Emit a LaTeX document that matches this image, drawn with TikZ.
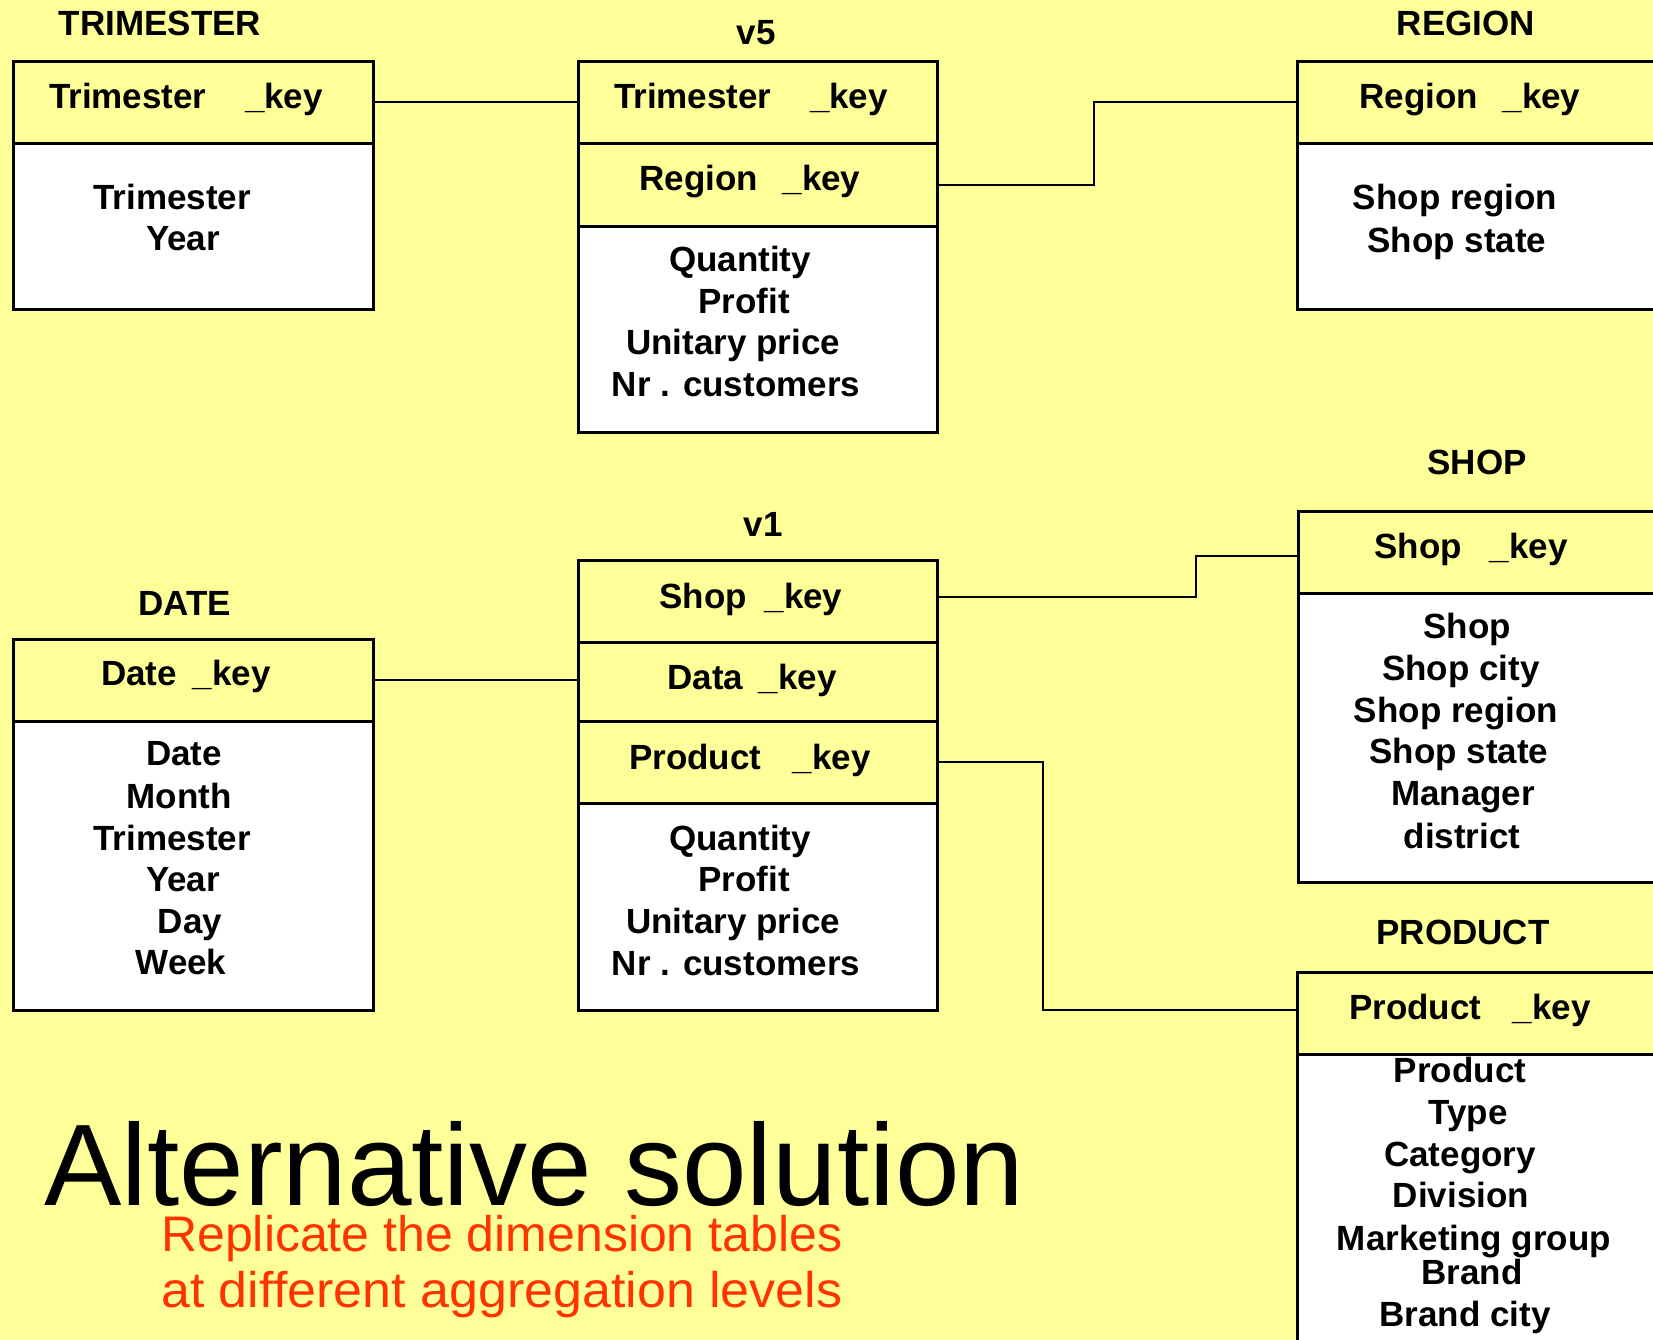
\documentclass[tikz,border=0pt]{standalone}
\usepackage{fontspec}
\setmainfont{Liberation Sans}
\definecolor{bgyel}{RGB}{255,255,153}
\definecolor{redtxt}{RGB}{255,51,0}
\begin{document}
\begin{tikzpicture}[x=1pt,y=-1pt,
  hdr/.style={draw=black, line width=2.6pt, fill=bgyel, anchor=north west, inner sep=0pt},
  body/.style={draw=black, line width=2.6pt, fill=white, anchor=north west, inner sep=0pt},
  txt/.style={font=\fontsize{35}{42}\selectfont\bfseries, inner sep=0pt, anchor=base},
  conn/.style={draw=black, line width=2pt}]
\useasboundingbox (0,0) rectangle (1653,1340);
\fill[bgyel] (0,0) rectangle (1653,1340);
\clip (0,0) rectangle (1653,1340);

% ---------- TRIMESTER ----------
\node[body, minimum width=360pt, minimum height=166pt] (tbody) at (12,142) {};
\node[hdr, minimum width=360pt, minimum height=82pt] (tkey) at (12,60) {};
\node[txt] (ttitle) at (160,36) {TRIMESTER};
\node[txt] (tkeyt) at (186,109) {Trimester\hspace{1.1em}\_key};
\node[txt] (tb1) at (172,210) {Trimester};
\node[txt] (tb2) at (183,251) {Year};

% ---------- v5 ----------
\node[body, minimum width=359pt, minimum height=206pt] (vfbody) at (577,225) {};
\node[hdr, minimum width=359pt, minimum height=83pt] (vfrk) at (577,142) {};
\node[hdr, minimum width=359pt, minimum height=82pt] (vftk) at (577,60) {};
\node[txt] (vftitle) at (756,45) {v5};
\node[txt] (vftkt) at (751,109) {Trimester\hspace{1.1em}\_key};
\node[txt] (vfrkt) at (750,191) {Region\hspace{0.7em}\_key};
\node[txt] (vfb1) at (740,272) {Quantity};
\node[txt] (vfb2) at (744,313) {Profit};
\node[txt] (vfb3) at (733,354) {Unitary price};
\node[txt] (vfb4) at (736,396) {Nr . customers};

% ---------- REGION ----------
\node[body, minimum width=420pt, minimum height=166pt] (rbody) at (1296,142) {};
\node[hdr, minimum width=420pt, minimum height=82pt] (rkey) at (1296,60) {};
\node[txt] (rtitle) at (1466,36) {REGION};
\node[txt] (rkeyt) at (1470,109) {Region\hspace{0.7em}\_key};
\node[txt] (rb1) at (1455,210) {Shop region};
\node[txt] (rb2) at (1457,252) {Shop state};

% ---------- DATE ----------
\node[body, minimum width=360pt, minimum height=289pt] (dbody) at (12,720) {};
\node[hdr, minimum width=360pt, minimum height=82pt] (dkey) at (12,638) {};
\node[txt] (dtitle) at (185,615) {DATE};
\node[txt] (dkeyt) at (186,685) {Date\hspace{0.45em}\_key};
\node[txt] (db1) at (184,765) {Date};
\node[txt] (db2) at (179,808) {Month};
\node[txt] (db3) at (172,850) {Trimester};
\node[txt] (db4) at (183,891) {Year};
\node[txt] (db5) at (190,933) {Day};
\node[txt] (db6) at (181,974) {Week};

% ---------- v1 ----------
\node[body, minimum width=359pt, minimum height=207pt] (vobody) at (577,802) {};
\node[hdr, minimum width=359pt, minimum height=82pt] (vopk) at (577,720) {};
\node[hdr, minimum width=359pt, minimum height=79pt] (vodk) at (577,641) {};
\node[hdr, minimum width=359pt, minimum height=82pt] (vosk) at (577,559) {};
\node[txt] (votitle) at (763,536) {v1};
\node[txt] (voskt) at (751,608) {Shop\hspace{0.5em}\_key};
\node[txt] (vodkt) at (752,689) {Data\hspace{0.45em}\_key};
\node[txt] (vopkt) at (750,769) {Product\hspace{0.9em}\_key};
\node[txt] (vob1) at (740,850) {Quantity};
\node[txt] (vob2) at (744,891) {Profit};
\node[txt] (vob3) at (733,933) {Unitary price};
\node[txt] (vob4) at (736,975) {Nr . customers};

% ---------- SHOP ----------
\node[body, minimum width=420pt, minimum height=289pt] (sbody) at (1297,592) {};
\node[hdr, minimum width=420pt, minimum height=82pt] (skey) at (1297,510) {};
\node[txt] (stitle) at (1477,474) {SHOP};
\node[txt] (skeyt) at (1471,558) {Shop\hspace{0.8em}\_key};
\node[txt] (sb1) at (1467,638) {Shop};
\node[txt] (sb2) at (1461,680) {Shop city};
\node[txt] (sb3) at (1456,722) {Shop region};
\node[txt] (sb4) at (1459,763) {Shop state};
\node[txt] (sb5) at (1463,805) {Manager};
\node[txt] (sb6) at (1462,848) {district};

% ---------- PRODUCT ----------
\node[body, minimum width=420pt, minimum height=400pt] (pbody) at (1296,1053) {};
\node[hdr, minimum width=420pt, minimum height=82pt] (pkey) at (1296,971) {};
\node[txt] (ptitle) at (1463,944) {PRODUCT};
\node[txt] (pkeyt) at (1470,1019) {Product\hspace{0.9em}\_key};
\node[txt] (pb1) at (1460,1082) {Product};
\node[txt] (pb2) at (1468,1124) {Type};
\node[txt] (pb3) at (1460,1166) {Category};
\node[txt] (pb4) at (1461,1207) {Division};
\node[txt] (pb5) at (1474,1250) {Marketing group};
\node[txt] (pb6) at (1472,1284) {Brand};
\node[txt] (pb7) at (1465,1326) {Brand city};

% ---------- connectors ----------
\draw[conn] (tkey.east) -- (tkey.east -| vftk.west);
\draw[conn] (vfrk.east) -- ++(155,0) |- (rkey.west);
\draw[conn] ([yshift=4pt]vosk.east) -- ++(257,0) |- ([yshift=-4pt]skey.west);
\draw[conn] (dkey.east) -- (dkey.east -| vodk.west);
\draw[conn] (vopk.east) -- ++(104,0) |- ([yshift=3pt]pkey.west);

% ---------- captions ----------
\node[inner sep=0pt, anchor=base west, text depth=0pt, font=\fontsize{116}{120}\selectfont] (alt) at (44,1205) {Alternative solution};
\node[inner sep=0pt, anchor=base west, text height=37pt, text=redtxt, font=\fontsize{50}{56}\selectfont] (rep1) at (161,1251) {Replicate the dimension tables};
\node[inner sep=0pt, anchor=base west, text height=37pt, text=redtxt, font=\fontsize{50}{56}\selectfont, xscale=1.04] (rep2) at (161,1307) {at different aggregation levels};
\end{tikzpicture}
\end{document}
